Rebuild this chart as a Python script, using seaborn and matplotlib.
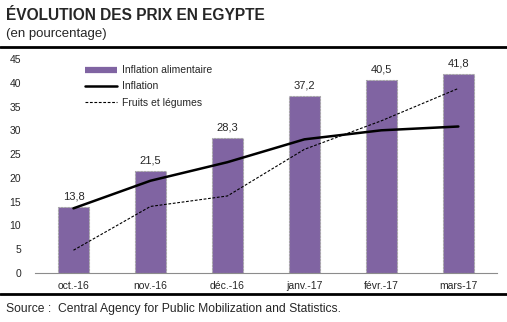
import matplotlib
matplotlib.use("Agg")
import matplotlib.pyplot as plt
import seaborn as sns
import pandas as pd
import numpy as np

categories = ["oct.-16", "nov.-16", "déc.-16", "janv.-17", "févr.-17", "mars-17"]
inflation_alimentaire = [13.8, 21.5, 28.3, 37.2, 40.5, 41.8]
inflation = [13.6, 19.4, 23.3, 28.1, 30.0, 30.8]
fruits_legumes = [4.8, 14.0, 16.2, 26.0, 32.0, 38.8]
yticks = [0, 5, 10, 15, 20, 25, 30, 35, 40, 45]

sns.set_style("white")
plt.rcParams["font.family"] = ["Liberation Sans", "DejaVu Sans"]

df = pd.DataFrame({"mois": categories, "alim": inflation_alimentaire,
                   "infl": inflation, "fruits": fruits_legumes})

fig = plt.figure(figsize=(5.07, 3.22), dpi=100)
ax = fig.add_axes([0.069, 0.152, 0.911, 0.665])

purple = "#8064A2"
sns.barplot(data=df, x="mois", y="alim", order=categories, color=purple,
            width=0.4, saturation=1, ax=ax, edgecolor="#A6A6A6", linewidth=0.8)
for p in ax.patches:
    p.set_linestyle((0, (2, 1)))
sns.lineplot(data=df, x="mois", y="infl", sort=False, color="black",
             linewidth=1.8, ax=ax, label="Inflation")
sns.lineplot(data=df, x="mois", y="fruits", sort=False, color="black",
             linewidth=0.8, linestyle=(0, (2.5, 1.5)), ax=ax,
             label="Fruits et légumes")

ax.bar_label(ax.containers[0],
             labels=[f"{v:.1f}".replace(".", ",") for v in inflation_alimentaire],
             padding=4, fontsize=8)

ax.set_ylim(0, 45)
ax.set_xlim(-0.5, len(categories) - 0.5)
ax.set_yticks(yticks)
ax.set_yticklabels([str(t) for t in yticks], fontsize=7.5)
ax.tick_params(axis="y", length=0, pad=10)
ax.set_xticks(range(len(categories)))
ax.set_xticklabels(categories, fontsize=7.5)
ax.tick_params(axis="x", which="major", length=0, pad=6)
ax.set_xticks(np.arange(-0.5, len(categories), 1), minor=True)
ax.tick_params(axis="x", which="minor", length=3, color="#8C8C8C", width=0.8)
ax.set_xlabel("")
ax.set_ylabel("")
for s in ["top", "right", "left"]:
    ax.spines[s].set_visible(False)
ax.spines["bottom"].set_color("#8C8C8C")
ax.spines["bottom"].set_linewidth(0.8)

handles, labels = ax.get_legend_handles_labels()
bar_proxy = plt.Line2D([], [], color=purple, linewidth=4.5, solid_capstyle="butt")
handles = [bar_proxy] + handles
labels = ["Inflation alimentaire"] + labels
ax.legend(handles, labels, loc="upper left", bbox_to_anchor=(0.095, 1.0),
          frameon=False, fontsize=7.5, handlelength=3.1, handletextpad=0.4,
          labelspacing=0.6, borderaxespad=0.2)

fig.text(0.012, 0.953, "ÉVOLUTION DES PRIX EN EGYPTE", fontsize=11.2,
         fontweight="bold", ha="left", va="center")
fig.text(0.012, 0.893, "(en pourcentage)", fontsize=9.5, ha="left", va="center")
fig.add_artist(plt.Line2D([0, 1], [0.855, 0.855], color="black", linewidth=2,
                          transform=fig.transFigure))
fig.add_artist(plt.Line2D([0, 1], [0.087, 0.087], color="black", linewidth=2,
                          transform=fig.transFigure))
fig.text(0.012, 0.04, "Source :  Central Agency for Public Mobilization and Statistics.",
         fontsize=8.7, ha="left", va="center")

fig.savefig("out.png", dpi=100)
